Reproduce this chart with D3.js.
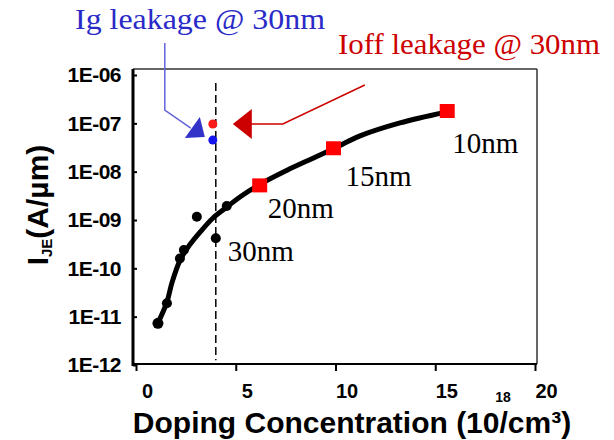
<!DOCTYPE html>
<html>
<head>
<meta charset="utf-8">
<script src="https://cdn.jsdelivr.net/npm/d3@7"></script>
<style>
  body { margin: 0; background: #fff; }
  svg { display: block; }
  .tick text { font-family: "Liberation Sans", Arial, sans-serif; font-weight: bold; fill: #000; }
</style>
</head>
<body>
<svg id="chart"></svg>
<script>
// values
const xTicks = [0, 5, 10, 15, 20];
const yTicks = [1e-12, 1e-11, 1e-10, 1e-9, 1e-8, 1e-7, 1e-6];

// fitted trend (black line)
const curveX = [1.10, 1.55, 1.80, 2.21, 2.61, 3.21, 3.86, 4.56, 5.21, 6.22, 7.57, 8.87, 9.87, 11.23, 13.23, 15.49];
const curveY = [7.4e-12, 2.0e-11, 5.0e-11, 1.48e-10, 2.75e-10, 5.6e-10, 1.1e-9, 1.86e-9, 3.0e-9, 5.5e-9, 1.07e-8, 1.9e-8, 2.95e-8, 5.5e-8, 1.02e-7, 1.7e-7];

// black measured dots
const dotX = [1.1, 1.55, 2.2, 2.4, 3.05, 4.0, 4.55];
const dotY = [7.3e-12, 1.9e-11, 1.6e-10, 2.4e-10, 1.17e-9, 4.2e-10, 1.95e-9];

// red squares (scaled devices)
const sqX = [6.2, 9.9, 15.6];
const sqY = [5.2e-9, 3.05e-8, 1.8e-7];
const sqLabels = ['20nm', '15nm', '10nm'];

// 30nm point
const node30X = 4.0;
const node30Y = 4.2e-10;
const node30Label = '30nm';

// leakage at 30nm
const leakX = 3.85;
const ioffLeak = 9.7e-8;
const igLeak = 4.5e-8;

const width = 614;
const height = 440;

const x = d3.scaleLinear().domain([0, 20]).range([136, 535]);
const y = d3.scaleLog().domain([1e-12, 1e-6]).range([365, 75]);

const svg = d3.select('#chart').attr('width', width).attr('height', height);

// frame
svg.append('line').attr('x1', 133).attr('x2', 537).attr('y1', 69).attr('y2', 69)
  .attr('stroke', '#333').attr('stroke-width', 1.5);
svg.append('line').attr('x1', 537).attr('x2', 537).attr('y1', 69).attr('y2', 364)
  .attr('stroke', '#333').attr('stroke-width', 1.5);
svg.append('line').attr('x1', 133).attr('x2', 537).attr('y1', 364).attr('y2', 364)
  .attr('stroke', '#000').attr('stroke-width', 2);
svg.append('line').attr('x1', 133).attr('x2', 133).attr('y1', 69).attr('y2', 366)
  .attr('stroke', '#000').attr('stroke-width', 3);

// axes
const xAxis = d3.axisBottom(x).tickValues(xTicks).tickSizeInner(7).tickSizeOuter(0).tickPadding(13);
const gx = svg.append('g').attr('transform', 'translate(0,364)').call(xAxis);
gx.select('.domain').remove();
gx.selectAll('.tick line').attr('stroke', '#000').attr('stroke-width', 2);
gx.selectAll('.tick text').attr('font-size', 20).attr('dx', 11);

const yAxis = d3.axisLeft(y).tickValues(yTicks).tickSizeInner(-4).tickSizeOuter(0).tickPadding(12)
  .tickFormat(d => '1E-' + String(Math.round(-Math.log10(d))).padStart(2, '0'));
const gy = svg.append('g').attr('transform', 'translate(133,0)').call(yAxis);
gy.select('.domain').remove();
gy.selectAll('.tick line').attr('stroke', '#000').attr('stroke-width', 2);
gy.selectAll('.tick text').attr('font-size', 21).attr('letter-spacing', -0.5);

// dashed 30nm line
svg.append('line')
  .attr('x1', x(node30X)).attr('x2', x(node30X))
  .attr('y1', y(6.8e-7)).attr('y2', y(1.25e-12))
  .attr('stroke', '#000').attr('stroke-width', 1.5).attr('stroke-dasharray', '8,4');

// trend line
const line = d3.line().x(d => x(d[0])).y(d => y(d[1])).curve(d3.curveCatmullRom);
svg.append('path')
  .datum(d3.zip(curveX, curveY))
  .attr('d', line)
  .attr('fill', 'none').attr('stroke', '#000').attr('stroke-width', 5)
  .attr('stroke-linecap', 'round');

// dots
svg.selectAll('circle.dot')
  .data(d3.zip(dotX, dotY))
  .enter().append('circle')
  .attr('class', 'dot')
  .attr('cx', d => x(d[0])).attr('cy', d => y(d[1]))
  .attr('r', (d, i) => i === 0 ? 5.5 : 5)
  .attr('fill', '#000');

// squares
svg.selectAll('rect.sq')
  .data(d3.zip(sqX, sqY))
  .enter().append('rect')
  .attr('class', 'sq')
  .attr('x', d => x(d[0]) - 7.5).attr('y', d => y(d[1]) - 7)
  .attr('width', 15).attr('height', 14)
  .attr('fill', '#ff0000');

// node labels
const serif = '"Liberation Serif", "Times New Roman", serif';
const labelOff = [[8, 33], [12, 38], [5, 42]];
svg.selectAll('text.node')
  .data(d3.zip(sqX, sqY, sqLabels))
  .enter().append('text')
  .attr('class', 'node')
  .attr('x', (d, i) => x(d[0]) + labelOff[i][0])
  .attr('y', (d, i) => y(d[1]) + labelOff[i][1])
  .attr('font-family', serif).attr('font-size', 29)
  .text(d => d[2]);
svg.append('text')
  .attr('x', x(node30X) + 12).attr('y', y(node30Y) + 23)
  .attr('font-family', serif).attr('font-size', 29)
  .text(node30Label);

// leakage dots
svg.append('circle').attr('cx', x(leakX)).attr('cy', y(ioffLeak)).attr('r', 4.5).attr('fill', '#ff1a1a');
svg.append('circle').attr('cx', x(leakX)).attr('cy', y(igLeak)).attr('r', 4.5).attr('fill', '#1414f0');

// red annotation arrow
const rx = x(leakX), ry = y(ioffLeak);
svg.append('polyline')
  .attr('points', [[rx + 36, ry], [rx + 70, ry], [rx + 152, ry - 39]].map(p => p.join(',')).join(' '))
  .attr('fill', 'none').attr('stroke', '#cc0000').attr('stroke-width', 1.5);
svg.append('polygon')
  .attr('points', [[rx + 20, ry], [rx + 39, ry - 15], [rx + 39, ry + 15]].map(p => p.join(',')).join(' '))
  .attr('fill', '#cc0000');

// blue annotation arrow
const bx = x(leakX), by = y(igLeak);
svg.append('polyline')
  .attr('points', [[bx - 48, by - 97], [bx - 48, by - 30], [bx - 22, by - 12]].map(p => p.join(',')).join(' '))
  .attr('fill', 'none').attr('stroke', '#6464dc').attr('stroke-width', 1.5);
svg.append('polygon')
  .attr('points', [[bx - 8, by - 3], [bx - 28, by - 2], [bx - 13, by - 23]].map(p => p.join(',')).join(' '))
  .attr('fill', '#3232c8');

// annotation texts
svg.append('text').attr('x', 75).attr('y', 29)
  .attr('font-family', serif).attr('font-size', 30).attr('fill', '#2a2ac8')
  .attr('textLength', 250).attr('lengthAdjust', 'spacingAndGlyphs')
  .text('Ig leakage @ 30nm');
svg.append('text').attr('x', 338).attr('y', 54)
  .attr('font-family', serif).attr('font-size', 30).attr('fill', '#cc0000')
  .attr('textLength', 262).attr('lengthAdjust', 'spacingAndGlyphs')
  .text('Ioff leakage @ 30nm');

// axis titles
const sans = '"Liberation Sans", Arial, sans-serif';
svg.append('text')
  .attr('x', 352).attr('y', 433)
  .attr('text-anchor', 'middle')
  .attr('font-family', sans).attr('font-weight', 'bold').attr('font-size', 30)
  .text('Doping Concentration (10/cm³)');
svg.append('text')
  .attr('x', 503).attr('y', 402)
  .attr('text-anchor', 'middle')
  .attr('font-family', sans).attr('font-weight', 'bold').attr('font-size', 14)
  .text('18');

const yt = svg.append('text')
  .attr('transform', 'translate(48,205) rotate(-90)')
  .attr('text-anchor', 'middle')
  .attr('font-family', sans).attr('font-weight', 'bold').attr('font-size', 30);
yt.append('tspan').text('I');
yt.append('tspan').attr('font-size', 15).attr('dy', 4).text('JE');
yt.append('tspan').attr('dy', -4).text('(A/µm)');
</script>
</body>
</html>
